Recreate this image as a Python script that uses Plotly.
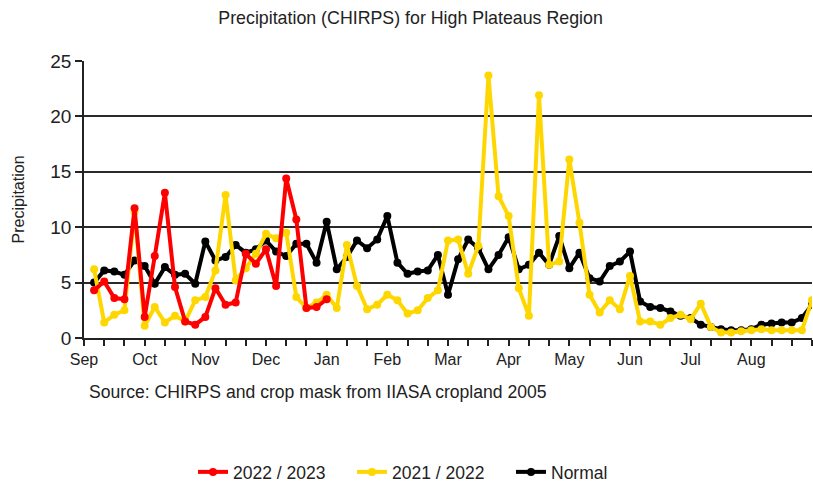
import plotly.graph_objects as go

# Pentad-level precipitation (mm), September through August (72 pentads)
months = ["Sep", "Oct", "Nov", "Dec", "Jan", "Feb", "Mar", "Apr", "May", "Jun", "Jul", "Aug"]
pentad = list(range(1, 73))

season_2022_23 = [4.3, 5.1, 3.6, 3.5, 11.7, 1.9, 7.4, 13.1, 4.6, 1.5, 1.2, 1.9,
                  4.5, 3.0, 3.2, 7.6, 6.7, 8.0, 4.7, 14.4, 10.7, 2.7, 2.8, 3.5]

season_2021_22 = [6.2, 1.4, 2.1, 2.5, 11.4, 1.1, 2.8, 1.4, 2.0, 1.5, 3.4, 3.7,
                  6.1, 12.9, 5.2, 6.3, 7.6, 9.4, 9.0, 9.5, 3.7, 2.7, 3.2, 3.9,
                  2.7, 8.4, 4.7, 2.6, 3.0, 3.9, 3.4, 2.2, 2.5, 3.6, 4.3, 8.8,
                  8.9, 5.8, 8.3, 23.7, 12.8, 11.0, 4.5, 2.0, 21.9, 6.6, 6.9, 16.1,
                  10.4, 3.9, 2.3, 3.4, 2.6, 5.6, 1.5, 1.5, 1.2, 1.8, 2.1, 1.7,
                  3.1, 1.0, 0.5, 0.5, 0.6, 0.7, 0.8, 0.7, 0.7, 0.7, 0.7, 3.4]

normal = [5.0, 6.1, 6.0, 5.7, 7.0, 6.5, 4.9, 6.4, 5.7, 5.8, 4.9, 8.7,
          7.0, 7.3, 8.4, 7.7, 8.0, 8.8, 7.8, 7.4, 8.5, 8.5, 6.8, 10.5,
          6.2, 7.3, 8.8, 8.1, 8.9, 11.0, 6.8, 5.8, 6.0, 6.1, 7.5, 3.9,
          7.1, 8.9, 8.1, 6.2, 7.5, 9.1, 6.2, 6.6, 7.7, 6.6, 9.2, 6.3,
          7.7, 5.4, 5.1, 6.5, 6.9, 7.8, 3.3, 2.8, 2.7, 2.4, 2.0, 1.8,
          1.2, 1.0, 0.8, 0.7, 0.7, 0.8, 1.2, 1.3, 1.4, 1.4, 1.8, 3.0]

month_ticks = [6 * k for k in range(len(months))]

FONT = "Liberation Sans, Arial, sans-serif"
TEXT = "#222222"

fig = go.Figure()

series = [
    ("Normal", normal, "#000000", 3),
    ("2021 / 2022", season_2021_22, "#FFD700", 2),
    ("2022 / 2023", season_2022_23, "#FF0000", 1),
]
for name, values, color, rank in series:
    fig.add_trace(go.Scatter(
        x=pentad[:len(values)], y=values, name=name, mode="lines+markers",
        line=dict(color=color, width=4),
        marker=dict(color=color, size=8),
        legendrank=rank,
    ))

fig.update_layout(
    width=813, height=485,
    margin=dict(l=84, r=1, t=61, b=147),
    paper_bgcolor="white", plot_bgcolor="white",
    font=dict(family=FONT, color=TEXT, size=16),
    title=dict(text="Precipitation (CHIRPS) for High Plateaus Region",
               x=0.505, xref="container", xanchor="center",
               y=1 - 18 / 485, yref="container", yanchor="middle",
               font=dict(size=17.8, family=FONT, color=TEXT)),
    showlegend=True,
    legend=dict(orientation="h", xref="container", x=193 / 813, xanchor="left",
                yref="container", y=13 / 485, yanchor="middle",
                font=dict(size=17.5, family=FONT, color=TEXT),
                traceorder="normal", itemwidth=30, entrywidth=114),
    xaxis=dict(range=[0, 72], tickmode="array", tickvals=month_ticks, ticktext=months,
               ticks="outside", ticklen=6, tickwidth=1.5, tickcolor="#222",
               showgrid=False, zeroline=False, showline=True, linecolor="#222", linewidth=1.5,
               tickfont=dict(size=16, family=FONT, color=TEXT),
               minor=dict(tick0=0, dtick=2, ticks="outside", ticklen=6, tickwidth=1.5,
                          tickcolor="#222", showgrid=False)),
    yaxis=dict(range=[0, 25], dtick=5, ticks="outside", ticklen=7, tickwidth=1.5,
               tickcolor="#222", showgrid=True, gridcolor="#2a2a2a", gridwidth=1.8,
               zeroline=False, showline=True, linecolor="#222", linewidth=1.6,
               tickfont=dict(size=19, family=FONT, color=TEXT)),
    annotations=[
        dict(text="Precipitation", textangle=-90, xref="paper", yref="paper",
             x=-66 / 728, y=0.5, xanchor="center", yanchor="middle", showarrow=False,
             font=dict(size=16, family=FONT, color=TEXT)),
        dict(text="Source: CHIRPS and crop mask from IIASA cropland 2005",
             xref="paper", yref="paper", x=3 / 728, y=-(392 - 338) / 277,
             xanchor="left", yanchor="middle", showarrow=False,
             font=dict(size=17.6, family=FONT, color=TEXT)),
    ],
)

fig.write_html("out.html")
